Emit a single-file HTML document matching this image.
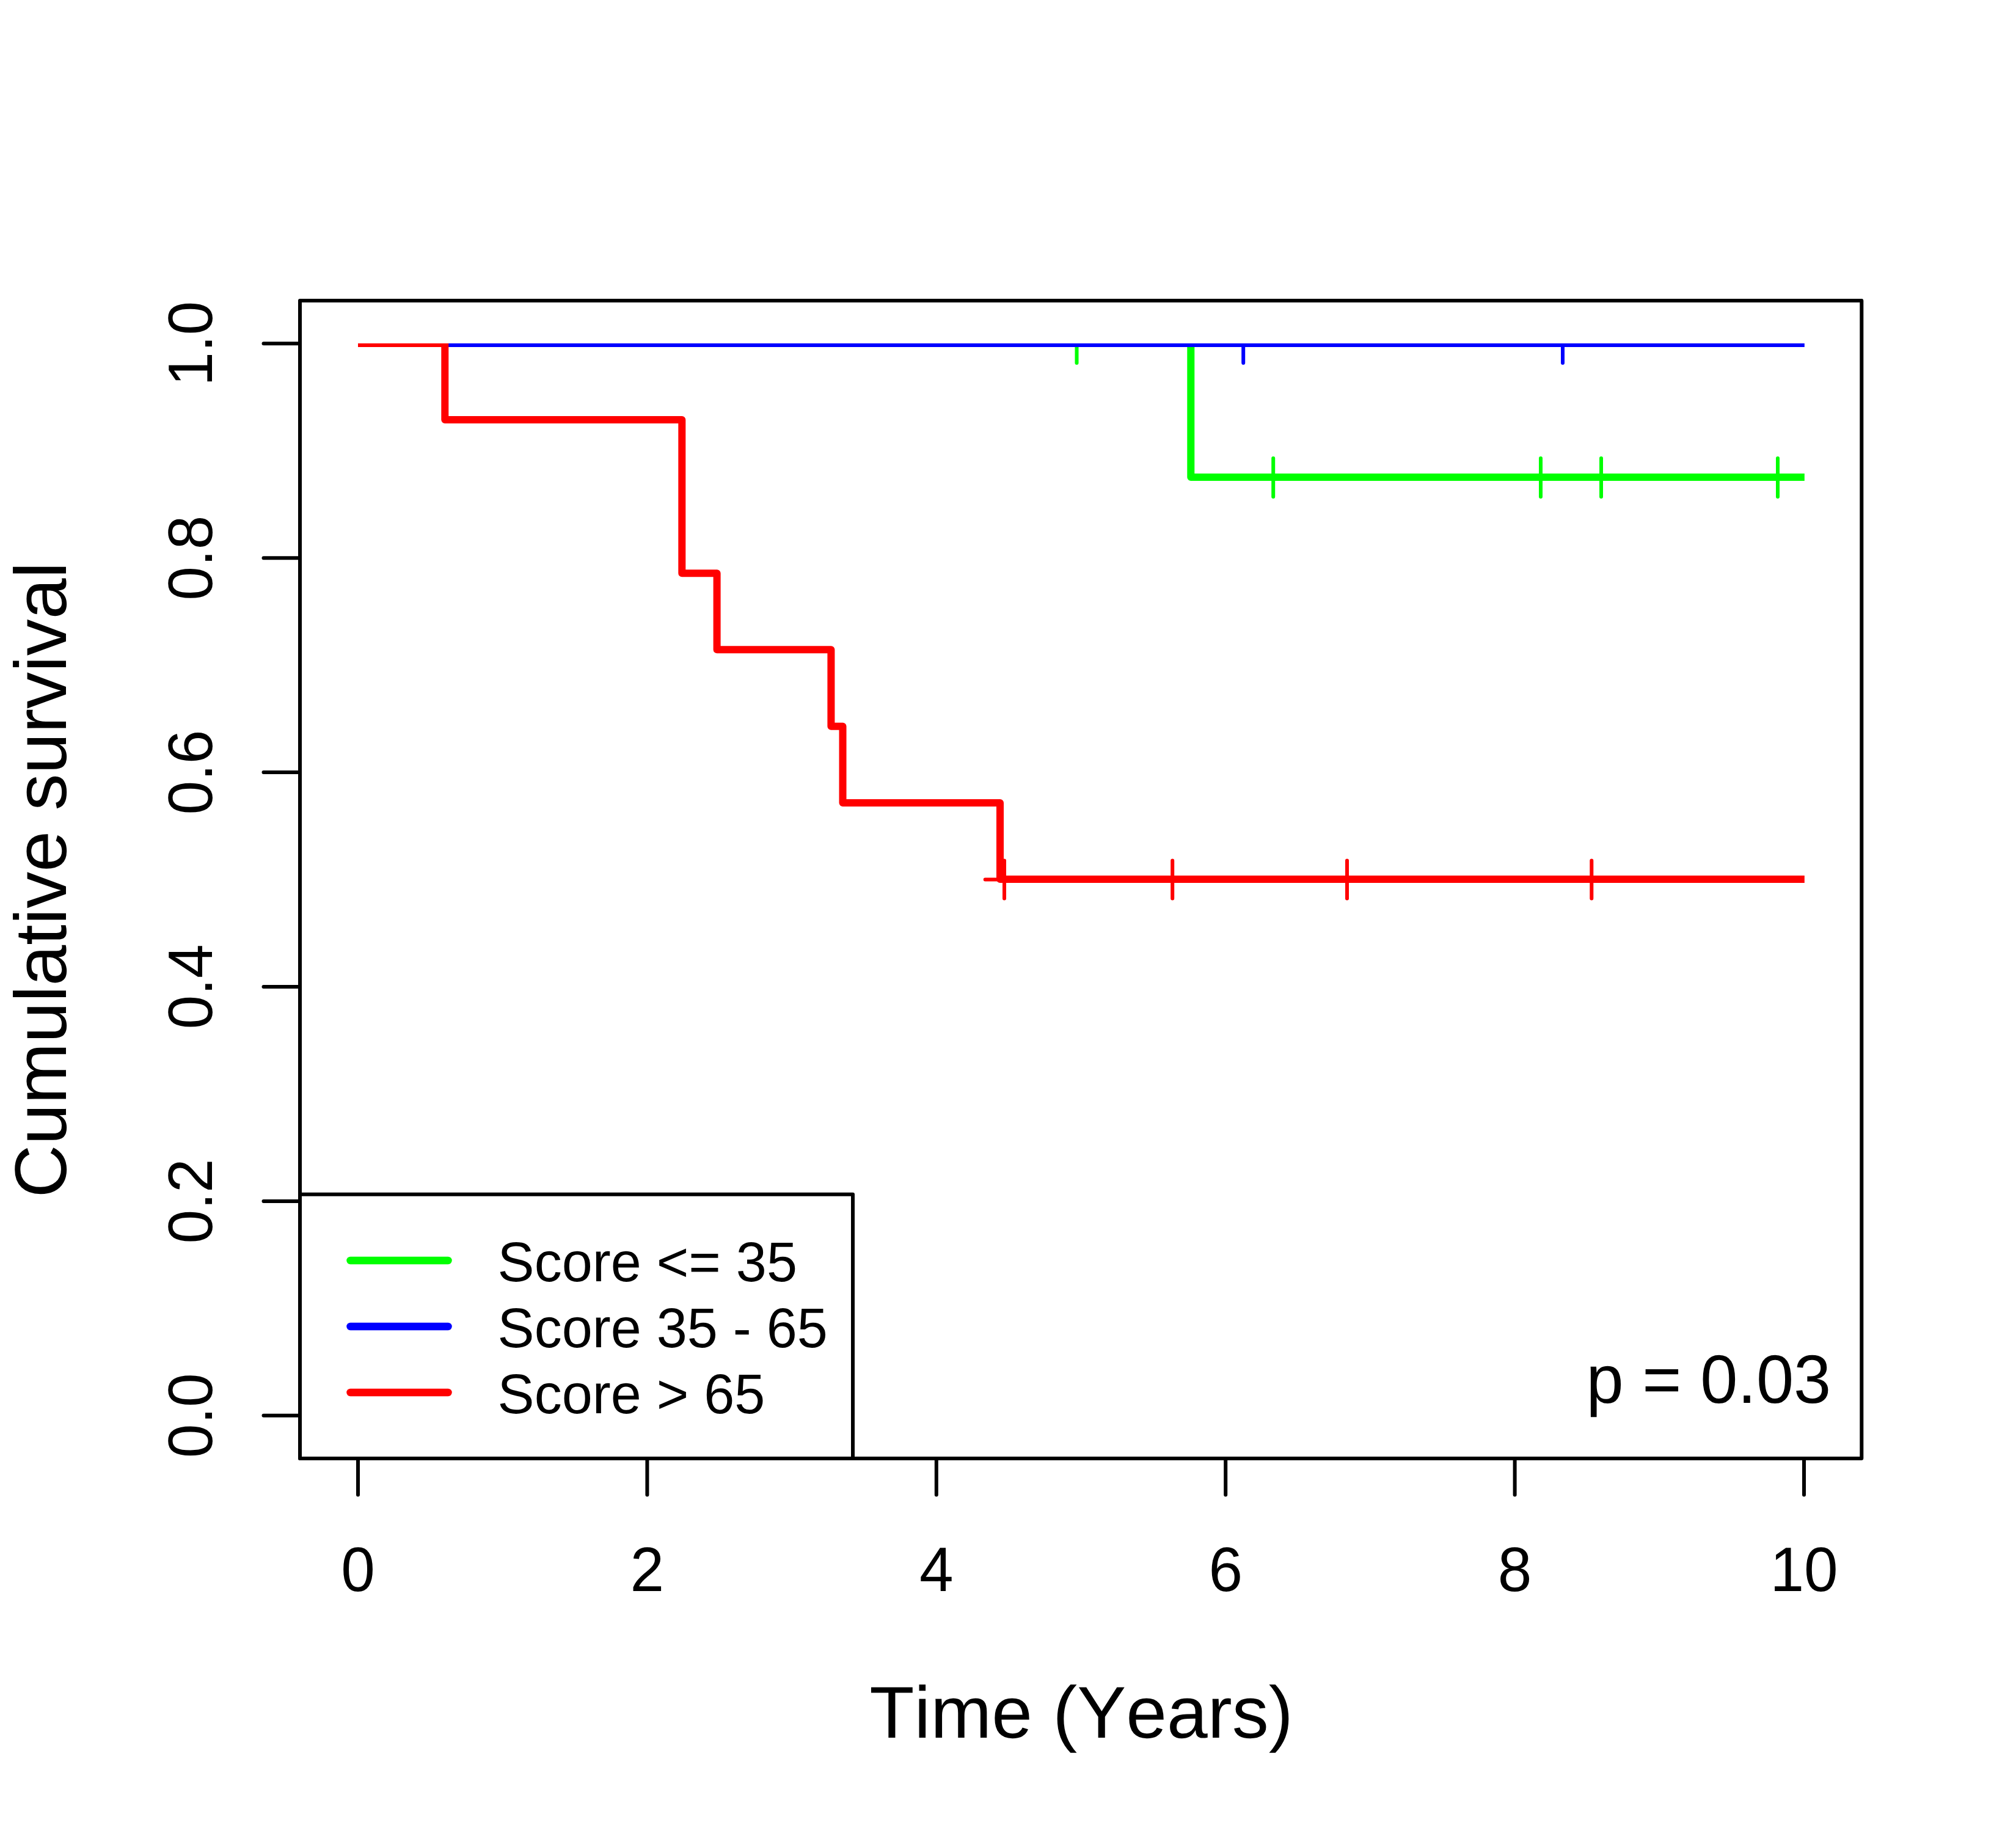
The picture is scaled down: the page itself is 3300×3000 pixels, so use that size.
<!DOCTYPE html>
<html lang="en">
<head>
<meta charset="utf-8">
<title>Cumulative survival</title>
<style>
html,body{margin:0;padding:0;background:#fff;}
body{width:3300px;height:3000px;overflow:hidden;}
svg{display:block;}
text{font-family:"Liberation Sans",Arial,sans-serif;fill:#000;font-kerning:none;text-rendering:geometricPrecision;}
.ax{font-size:100px;}
.lab{font-size:120px;}
.lg{font-size:90px;}
.pv{font-size:110px;}
.k{stroke:#000;stroke-width:6;fill:none;stroke-linecap:round;stroke-linejoin:round;}
</style>
</head>
<body>
<svg width="3300" height="3000" viewBox="0 0 3300 3000">
<rect x="0" y="0" width="3300" height="3000" fill="#fff"/>

<!-- green curve -->
<g stroke="#00ff00" fill="none">
  <path d="M1762.5,565V594" stroke-width="6" stroke-linecap="round"/>
  <path d="M1949.3,565V781H2953.8" stroke-width="12" stroke-linejoin="round"/>
  <path d="M2084.2,750V813M2522,750V813M2621,750V813M2910,750V813" stroke-width="6" stroke-linecap="round"/>
</g>
<!-- blue curve -->
<g stroke="#0000ff" fill="none">
  <path d="M727,565H2953.8" stroke-width="6"/>
  <path d="M2035.2,565V594M2558,565V594" stroke-width="6" stroke-linecap="round"/>
</g>
<!-- red curve -->
<g stroke="#ff0000" fill="none">
  <path d="M586,565H729" stroke-width="6"/>
  <path d="M728.3,562V687H1116.3V938.3H1173.6V1063.3H1360.4V1188.8H1379.5V1314H1637V1439H2953.8" stroke-width="12" stroke-linejoin="round"/>
  <path d="M1644,1408.5V1470.5M1612.7,1439.5H1675M1919.2,1408.5V1470.5M2205,1408.5V1470.5M2605.3,1408.5V1470.5" stroke-width="6" stroke-linecap="round"/>
</g>

<!-- legend -->
<rect x="491" y="1954.7" width="905" height="432.3" fill="#fff" stroke="#000" stroke-width="6" stroke-linejoin="round"/>
<g fill="none" stroke-width="12.5" stroke-linecap="round">
  <path d="M573.5,2063H733.5" stroke="#00ff00"/>
  <path d="M573.5,2171H733.5" stroke="#0000ff"/>
  <path d="M573.5,2279H733.5" stroke="#ff0000"/>
</g>
<text class="lg" transform="translate(814.6,2097) scale(1,1.02)">Score &lt;= 35</text>
<text class="lg" transform="translate(814.6,2205) scale(1,1.02)">Score 35 - 65</text>
<text class="lg" transform="translate(814.6,2313) scale(1,1.02)">Score &gt; 65</text>

<!-- box + axes -->
<rect class="k" x="491" y="492" width="2556.3" height="1895"/>
<path class="k" d="M586,2387V2446.5M1059.4,2387V2446.5M1532.8,2387V2446.5M2006.2,2387V2446.5M2479.6,2387V2446.5M2953,2387V2446.5"/>
<path class="k" d="M491,2316.8H431.5M491,1965.9H431.5M491,1615H431.5M491,1264.1H431.5M491,913.2H431.5M491,562.3H431.5"/>

<g class="ax" text-anchor="middle">
  <text transform="translate(586,2604) scale(1,1.028)">0</text>
  <text transform="translate(1059.4,2604) scale(1,1.028)">2</text>
  <text transform="translate(1532.8,2604) scale(1,1.028)">4</text>
  <text transform="translate(2006.2,2604) scale(1,1.028)">6</text>
  <text transform="translate(2479.6,2604) scale(1,1.028)">8</text>
  <text transform="translate(2953,2604) scale(1,1.028)">10</text>
  <text transform="translate(347,2316.8) rotate(-90) scale(1,1.028)">0.0</text>
  <text transform="translate(347,1965.9) rotate(-90) scale(1,1.028)">0.2</text>
  <text transform="translate(347,1615) rotate(-90) scale(1,1.028)">0.4</text>
  <text transform="translate(347,1264.1) rotate(-90) scale(1,1.028)">0.6</text>
  <text transform="translate(347,913.2) rotate(-90) scale(1,1.028)">0.8</text>
  <text transform="translate(347,562.3) rotate(-90) scale(1,1.028)">1.0</text>
</g>
<text class="lab" text-anchor="middle" x="1770" y="2843.5">Time (Years)</text>
<text class="lab" text-anchor="middle" transform="translate(108,1440) rotate(-90)">Cumulative survival</text>
<text class="pv" transform="translate(2596.6,2296) scale(1,1.02)">p = 0.03</text>
</svg>
</body>
</html>
